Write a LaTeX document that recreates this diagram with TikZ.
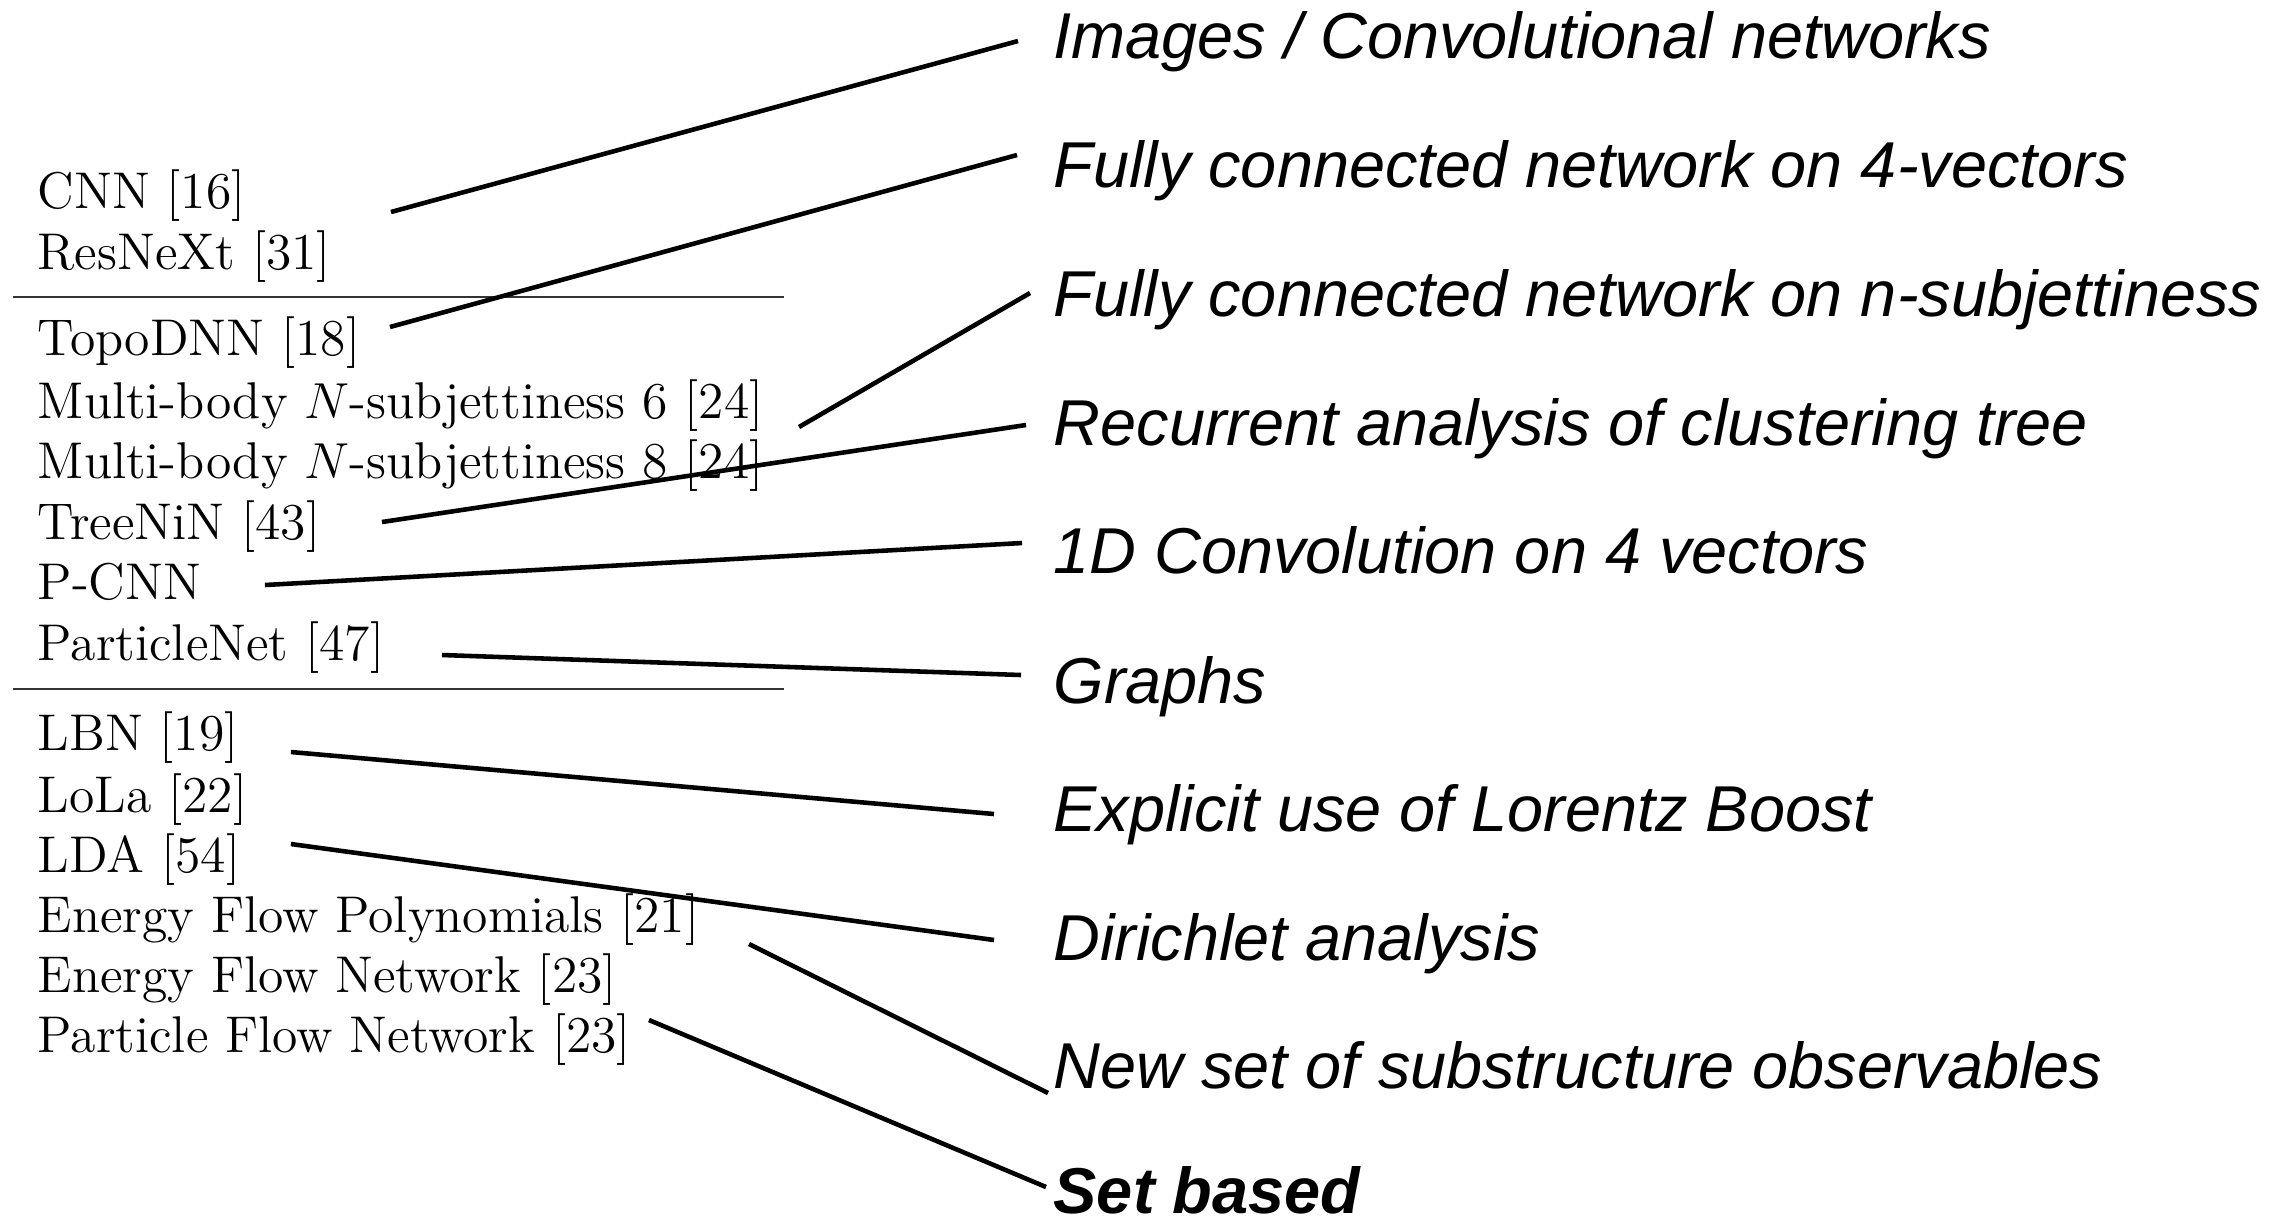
\documentclass[tikz,border=0pt]{standalone}
\usepackage{fontspec}
\usepackage{amsmath}
\newfontfamily\helv{Liberation Sans}
\usetikzlibrary{positioning}

\begin{document}
\begin{tikzpicture}
	[inner sep=0pt,
	method/.style	= {anchor=base west, font=\fontsize{14.7pt}{17pt}\selectfont},
	category/.style	= {anchor=base west, font=\helv\itshape\fontsize{18.45pt}{22pt}\selectfont},
	link/.style	= {line width=1.3pt},
	divider/.style	= {line width=0.8pt, black!80}]

	\useasboundingbox (0,0) rectangle (22.90,-12.20);

	% methods
	\node at (0.37, -2.08)	[method]	(cnn)		{CNN [16]};
	\node at (0.37, -2.69)	[method]	(resnext)	{ResNeXt [31]};
	\node at (0.37, -3.55)	[method]	(topo)		{TopoDNN [18]};
	\node at (0.37, -4.18)	[method]	(mb6)		{Multi-body $N$-subjettiness 6 [24]};
	\node at (0.37, -4.78)	[method]	(mb8)		{Multi-body $N$-subjettiness 8 [24]};
	\node at (0.37, -5.39)	[method]	(treenin)	{TreeNiN [43]};
	\node at (0.37, -5.99)	[method]	(pcnn)		{P-CNN};
	\node at (0.37, -6.60)	[method]	(pnet)		{ParticleNet [47]};
	\node at (0.37, -7.50)	[method]	(lbn)		{LBN [19]};
	\node at (0.37, -8.12)	[method]	(lola)		{LoLa [22]};
	\node at (0.37, -8.72)	[method]	(lda)		{LDA [54]};
	\node at (0.37, -9.32)	[method]	(efp)		{Energy Flow Polynomials [21]};
	\node at (0.37, -9.92)	[method]	(efn)		{Energy Flow Network [23]};
	\node at (0.37, -10.52)	[method]	(pfn)		{Particle Flow Network [23]};

	\draw [divider] (0.13, -2.97) -- (7.84, -2.97);
	\draw [divider] (0.13, -6.89) -- (7.84, -6.89);

	% categories
	\node at (10.53, -0.58)		[category]	(img)	{Images / Convolutional networks};
	\node at (10.53, -1.87)		[category]	(fc4)	{Fully connected network on 4-vectors};
	\node at (10.53, -3.16)		[category]	(fcn)	{Fully connected network on n-subjettiness};
	\node at (10.53, -4.45)		[category]	(rec)	{Recurrent analysis of clustering tree};
	\node at (10.53, -5.73)		[category]	(conv)	{1D Convolution on 4 vectors};
	\node at (10.53, -7.03)		[category]	(graph)	{Graphs};
	\node at (10.53, -8.31)		[category]	(boost)	{Explicit use of Lorentz Boost};
	\node at (10.53, -9.60)		[category]	(diri)	{Dirichlet analysis};
	\node at (10.53, -10.88)	[category]	(subs)	{New set of substructure observables};
	\node at (10.53, -12.13)	[category]	(set)	{\bfseries Set based};

	% connector ends
	\coordinate (cnn-o)		at (3.91, -2.12);
	\coordinate (topo-o)	at (3.90, -3.27);
	\coordinate (mb6-o)		at (7.99, -4.27);
	\coordinate (treenin-o)	at (3.82, -5.22);
	\coordinate (pcnn-o)	at (2.65, -5.85);
	\coordinate (pnet-o)	at (4.42, -6.55);
	\coordinate (lbn-o)		at (2.91, -7.52);
	\coordinate (lda-o)		at (2.91, -8.44);
	\coordinate (efp-o)		at (7.49, -9.44);
	\coordinate (pfn-o)		at (6.49, -10.20);

	\coordinate (img-i)		at (10.18, -0.41);
	\coordinate (fc4-i)		at (10.17, -1.55);
	\coordinate (fcn-i)		at (10.30, -2.93);
	\coordinate (rec-i)		at (10.26, -4.25);
	\coordinate (conv-i)	at (10.22, -5.43);
	\coordinate (graph-i)	at (10.21, -6.75);
	\coordinate (boost-i)	at (9.94, -8.14);
	\coordinate (diri-i)	at (9.94, -9.40);
	\coordinate (subs-i)	at (10.48, -10.93);
	\coordinate (set-i)		at (10.46, -11.87);

	\draw [link] (cnn-o)		-- (img-i);
	\draw [link] (topo-o)		-- (fc4-i);
	\draw [link] (mb6-o)		-- (fcn-i);
	\draw [link] (treenin-o)	-- (rec-i);
	\draw [link] (pcnn-o)		-- (conv-i);
	\draw [link] (pnet-o)		-- (graph-i);
	\draw [link] (lbn-o)		-- (boost-i);
	\draw [link] (lda-o)		-- (diri-i);
	\draw [link] (efp-o)		-- (subs-i);
	\draw [link] (pfn-o)		-- (set-i);

\end{tikzpicture}
\end{document}
